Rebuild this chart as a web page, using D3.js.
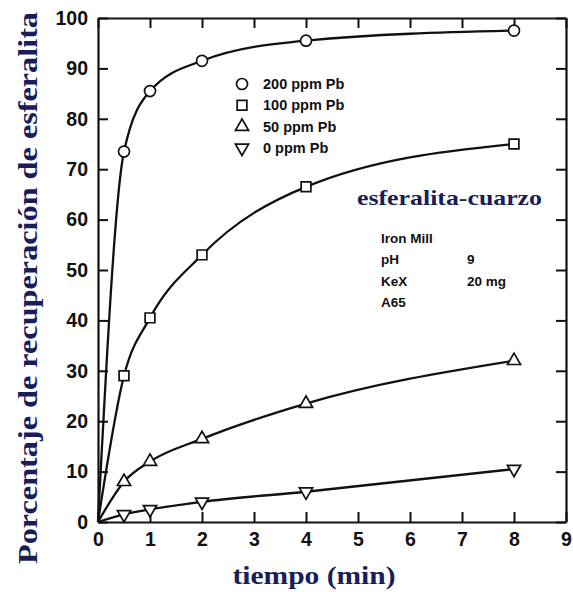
<!DOCTYPE html>
<html>
<head>
<meta charset="utf-8">
<script src="https://cdn.jsdelivr.net/npm/d3@7/dist/d3.min.js"></script>
<style>
  body { margin: 0; background: #fff; }
  svg { display: block; }
  .tick text { font-family: "Liberation Sans", Arial, sans-serif; font-weight: bold; font-size: 19.5px; fill: #111; }
</style>
</head>
<body>
<svg id="chart" width="573" height="592"></svg>
<script>
// time in minutes, all series start from the origin
var tiempo = [0, 0.5, 1, 2, 4, 8];

// recovery (%) for each Pb dose
var pb200 = [0, 73.5, 85.5, 91.5, 95.5, 97.5];
var pb100 = [0, 29, 40.5, 53, 66.5, 75];
var pb50 = [0, 8, 12, 16.5, 23.5, 32];
var pb0 = [0, 1.5, 2.5, 4, 6, 10.5];

var seriesNames = ["200 ppm Pb", "100 ppm Pb", "50 ppm Pb", "0 ppm Pb"];
var seriesSymbols = ["circle", "square", "triangle", "triangleDown"];

var xTicks = [0, 1, 2, 3, 4, 5, 6, 7, 8, 9];
var yTicks = [0, 10, 20, 30, 40, 50, 60, 70, 80, 90, 100];

var infoLines = [["Iron Mill", ""], ["pH", "9"], ["KeX", "20 mg"], ["A65", ""]];

var svg = d3.select("#chart");
var navy = "#1a1d58";

var x = d3.scaleLinear().domain([0, 9]).range([98, 566]);
var y = d3.scaleLinear().domain([0, 100]).range([522, 18]);

// frame + inward ticks on all four sides
svg.append("g").attr("transform", "translate(0,522)")
  .call(d3.axisBottom(x).tickValues(xTicks).tickSize(-10).tickSizeOuter(0).tickPadding(10));
svg.append("g").attr("transform", "translate(0,18)")
  .call(d3.axisTop(x).tickValues(xTicks).tickSize(-10).tickSizeOuter(0).tickFormat(""));
svg.append("g").attr("transform", "translate(98,0)")
  .call(d3.axisLeft(y).tickValues(yTicks).tickSize(-10).tickSizeOuter(0).tickPadding(10));
svg.append("g").attr("transform", "translate(566,0)")
  .call(d3.axisRight(y).tickValues(yTicks).tickSize(-10).tickSizeOuter(0).tickFormat(""));

svg.selectAll(".domain").attr("stroke", "#111").attr("stroke-width", 2.2);
svg.selectAll(".tick line").attr("stroke", "#111").attr("stroke-width", 2);

var allSeries = [pb200, pb100, pb50, pb0];

var line = d3.line()
  .x(function(d, i) { return x(tiempo[i]); })
  .y(function(d) { return y(d); })
  .curve(d3.curveMonotoneX);

svg.append("g").selectAll("path")
  .data(allSeries)
  .join("path")
  .attr("d", line)
  .attr("fill", "none")
  .attr("stroke", "#111")
  .attr("stroke-width", 2.3);

var symbolTypes = {
  circle: d3.symbol().type(d3.symbolCircle).size(95),
  square: d3.symbol().type(d3.symbolSquare).size(95),
  triangle: d3.symbol().type(d3.symbolTriangle).size(75),
  triangleDown: d3.symbol().type(d3.symbolTriangle).size(75)
};

function drawSymbol(g, kind, cx, cy) {
  g.append("path")
    .attr("d", symbolTypes[kind]())
    .attr("transform", "translate(" + cx + "," + cy + ")" + (kind == "triangleDown" ? " rotate(180)" : ""))
    .attr("fill", "#fff")
    .attr("stroke", "#111")
    .attr("stroke-width", 1.7);
}

var markers = svg.append("g");
allSeries.forEach(function(vals, s) {
  vals.forEach(function(v, i) {
    if (tiempo[i] == 0) return;
    drawSymbol(markers, seriesSymbols[s], x(tiempo[i]), y(v));
  });
});

// legend
var legend = svg.append("g");
seriesNames.forEach(function(name, i) {
  var ly = 84 + i * 21.3;
  drawSymbol(legend, seriesSymbols[i], 242, ly);
  legend.append("text")
    .attr("x", 263).attr("y", ly + 5)
    .attr("font-family", "Liberation Sans, Arial, sans-serif")
    .attr("font-weight", "bold")
    .attr("font-size", 14.5)
    .attr("fill", "#111")
    .text(name);
});

svg.append("text")
  .attr("x", 357).attr("y", 205)
  .attr("font-family", "Liberation Serif, Times New Roman, serif")
  .attr("font-weight", "bold")
  .attr("font-size", 22)
  .attr("textLength", 185).attr("lengthAdjust", "spacingAndGlyphs")
  .attr("fill", navy)
  .text("esferalita-cuarzo");

var info = svg.append("g")
  .attr("font-family", "Liberation Sans, Arial, sans-serif")
  .attr("font-weight", "bold")
  .attr("font-size", 13.5)
  .attr("fill", "#111");
infoLines.forEach(function(row, i) {
  var ty = 243 + i * 21.3;
  info.append("text").attr("x", 381).attr("y", ty).text(row[0]);
  if (row[1]) info.append("text").attr("x", 467).attr("y", ty).text(row[1]);
});

// axis titles
svg.append("text")
  .attr("transform", "translate(37,288) rotate(-90)")
  .attr("text-anchor", "middle")
  .attr("font-family", "Liberation Serif, Times New Roman, serif")
  .attr("font-weight", "bold")
  .attr("font-size", 27)
  .attr("textLength", 552).attr("lengthAdjust", "spacingAndGlyphs")
  .attr("fill", navy)
  .text("Porcentaje de recuperación de esferalita");

svg.append("text")
  .attr("x", 314).attr("y", 584)
  .attr("text-anchor", "middle")
  .attr("font-family", "Liberation Serif, Times New Roman, serif")
  .attr("font-weight", "bold")
  .attr("font-size", 26)
  .attr("textLength", 163).attr("lengthAdjust", "spacingAndGlyphs")
  .attr("fill", navy)
  .text("tiempo (min)");
</script>
</body>
</html>
